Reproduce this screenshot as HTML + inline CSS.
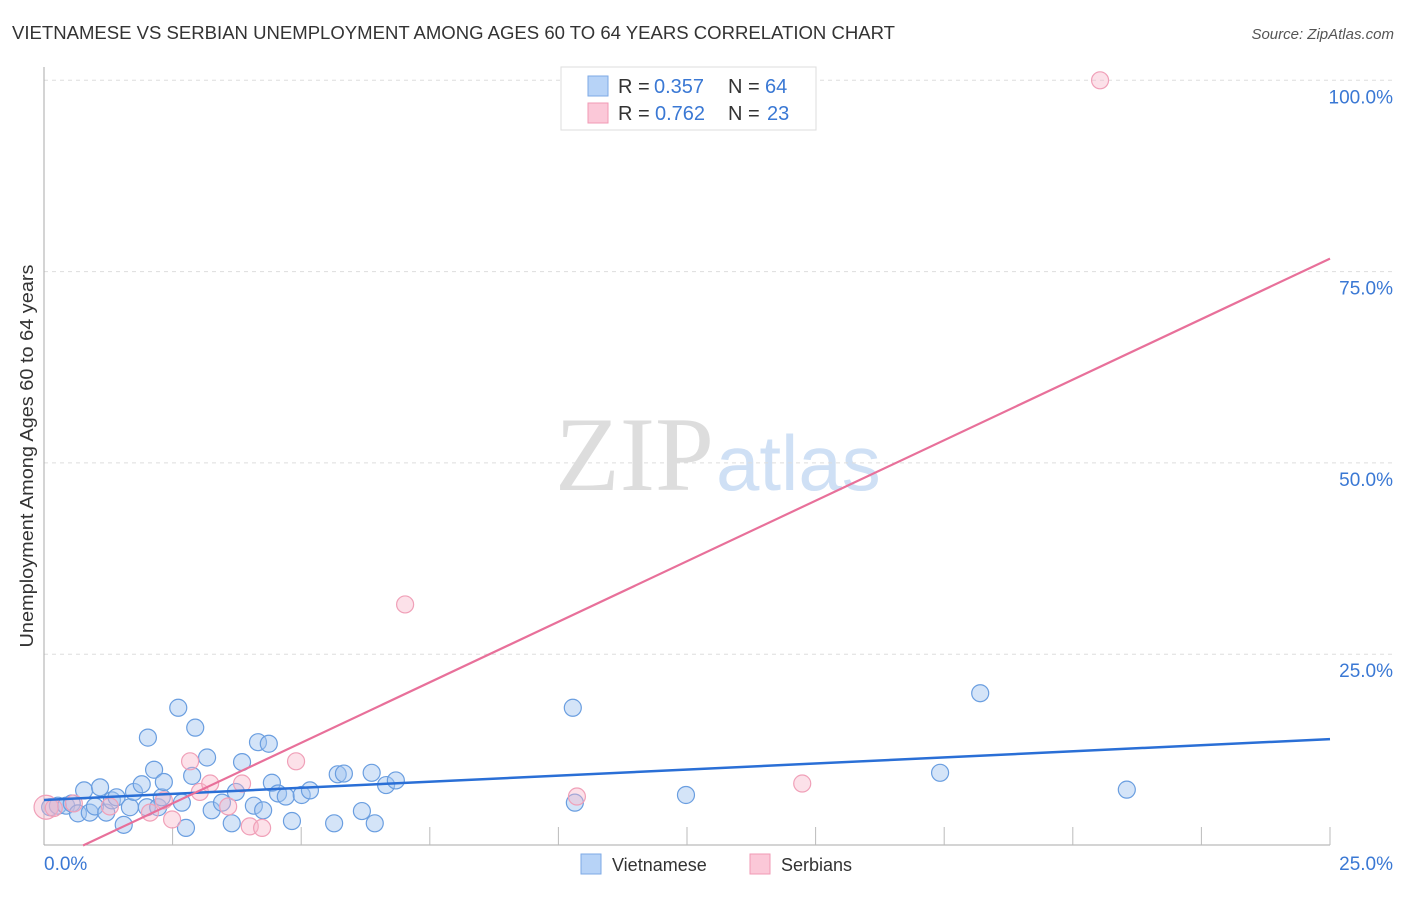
<!DOCTYPE html>
<html><head><meta charset="utf-8"><style>
body{margin:0;background:#fff;font-family:"Liberation Sans",sans-serif;}
svg text{font-family:"Liberation Sans",sans-serif;}
</style></head><body>
<svg id="c" width="1406" height="892" xmlns="http://www.w3.org/2000/svg">
<text x="12" y="39" font-size="18" fill="#333" textLength="883" lengthAdjust="spacingAndGlyphs">VIETNAMESE VS SERBIAN UNEMPLOYMENT AMONG AGES 60 TO 64 YEARS CORRELATION CHART</text>
<text x="1394" y="39" font-size="15" fill="#555" font-style="italic" text-anchor="end">Source: ZipAtlas.com</text>
<text x="33" y="456" font-size="18" fill="#333" text-anchor="middle" textLength="383" lengthAdjust="spacingAndGlyphs" transform="rotate(-90 33 456)">Unemployment Among Ages 60 to 64 years</text>
<text x="555" y="490" font-size="106" fill="#ddd" style="font-family:'Liberation Serif',serif">ZIP</text>
<text x="716" y="490" font-size="78" fill="#cfe0f5">atlas</text>
<g id="grid"></g><g id="axes"></g><g id="pts"></g><g id="lines"></g>
<g>
<rect x="561" y="67" width="255" height="63" fill="#fff" stroke="#ddd"/>
<rect x="588" y="76" width="20" height="20" fill="#b7d3f7" stroke="#7ea9e6"/>
<rect x="588" y="103" width="20" height="20" fill="#fbc8d8" stroke="#f09ab5"/>
<text x="618" y="93" font-size="20" fill="#333">R =</text><text x="654" y="93" font-size="20" fill="#3a78d4">0.357</text>
<text x="728" y="93" font-size="20" fill="#333">N =</text><text x="765" y="93" font-size="20" fill="#3a78d4">64</text>
<text x="618" y="120" font-size="20" fill="#333">R =</text><text x="655" y="120" font-size="20" fill="#3a78d4">0.762</text>
<text x="728" y="120" font-size="20" fill="#333">N =</text><text x="767" y="120" font-size="20" fill="#3a78d4">23</text>
</g>
<g>
<rect x="581" y="854" width="20" height="20" fill="#b7d3f7" stroke="#7ea9e6"/>
<text x="612" y="871" font-size="18" fill="#333">Vietnamese</text>
<rect x="750" y="854" width="20" height="20" fill="#fbc8d8" stroke="#f09ab5"/>
<text x="781" y="871" font-size="18" fill="#333">Serbians</text>
</g>
</svg>
<script>
const yTicks=[25,50,75,100];
const xLabels=["0.0%","25.0%"];
const viX=[0.12,0.27,0.43,0.54,0.66,0.78,0.89,0.99,1.09,1.21,1.32,1.41,1.55,1.67,1.75,1.9,2.0,2.02,2.14,2.22,2.29,2.33,2.61,2.68,2.76,2.88,2.94,3.17,3.26,3.46,3.65,3.73,3.85,4.08,4.16,4.26,4.37,4.43,4.55,4.7,4.82,5.01,5.17,5.64,5.71,5.83,6.18,6.37,6.43,6.65,6.84,10.28,10.32,12.48,17.42,18.2,21.05];
const viY=[5.0,5.2,5.2,5.5,4.2,7.2,4.3,5.1,7.6,4.3,5.9,6.3,2.7,5.0,7.0,8.0,5.0,14.1,9.9,5.0,6.3,8.3,18.0,5.6,2.3,9.1,15.4,11.5,4.6,5.6,2.9,7.0,10.9,5.2,13.5,4.6,13.3,8.2,6.8,6.4,3.2,6.6,7.2,2.9,9.3,9.4,4.5,9.5,2.9,7.9,8.5,18.0,5.6,6.6,9.5,19.9,7.3];
const seX=[0.04,0.19,0.58,1.28,2.06,2.33,2.49,2.84,3.03,3.23,3.58,3.85,4.0,4.24,4.9,7.02,10.36,14.74,20.53];
const seY=[5.0,4.9,5.5,5.1,4.3,5.9,3.4,11.0,7.0,8.1,5.1,8.1,2.5,2.3,11.0,31.5,6.4,8.1,100];
const blueLine=[5.95,13.9], pinkLine=[-2.4,76.7];
const NS="http://www.w3.org/2000/svg";
const X=v=>44+v/25*1286, Y=v=>845.5-v/25*191.3;
function mk(p,t,a){const e=document.createElementNS(NS,t);for(const k in a)e.setAttribute(k,a[k]);document.getElementById(p).appendChild(e);return e;}
yTicks.forEach(t=>{
 const l=mk('grid','line',{x1:44,x2:1394,y1:Y(t),y2:Y(t),stroke:'#ddd','stroke-dasharray':'4,4'});
 
 
 const tx=mk('grid','text',{x:1393,y:Y(t)+23,'font-size':19,fill:'#3a78d4','text-anchor':'end'});tx.textContent=t.toFixed(1)+'%';
 
 
});
mk('axes','line',{x1:44,x2:44,y1:67,y2:845,stroke:'#aaa'});
mk('axes','line',{x1:44,x2:1330,y1:845,y2:845,stroke:'#aaa'});
for(let i=1;i<=10;i++){mk('axes','line',{x1:44+i*128.6,x2:44+i*128.6,y1:827,y2:845,stroke:'#bbb'});}
const xl0=mk('axes','text',{x:44,y:870,'font-size':19,fill:'#3a78d4'});xl0.textContent=xLabels[0];


const xl1=mk('axes','text',{x:1393,y:870,'font-size':19,fill:'#3a78d4','text-anchor':'end'});xl1.textContent=xLabels[1];


viX.forEach((v,i)=>{const c=mk('pts','circle',{cx:X(v),cy:Y(viY[i]),r:8.5,fill:'rgba(160,195,240,0.45)',stroke:'#6a9ee0','stroke-width':1.2});
 
 });
seX.forEach((v,i)=>{const c=mk('pts','circle',{cx:X(v),cy:Y(seY[i]),r:i==0?12:8.5,fill:'rgba(248,180,200,0.4)',stroke:'#f0a0b8','stroke-width':1.2});
 
 });
const bl=mk('lines','line',{x1:X(0),y1:Y(blueLine[0]),x2:X(25),y2:Y(blueLine[1]),stroke:'#2a6fd6','stroke-width':2.5});


const x0=-pinkLine[0]/(pinkLine[1]-pinkLine[0])*25;
const pl=mk('lines','line',{x1:X(x0),y1:Y(0),x2:X(25),y2:Y(pinkLine[1]),stroke:'#e8709a','stroke-width':2.2});


</script>
</body></html>
